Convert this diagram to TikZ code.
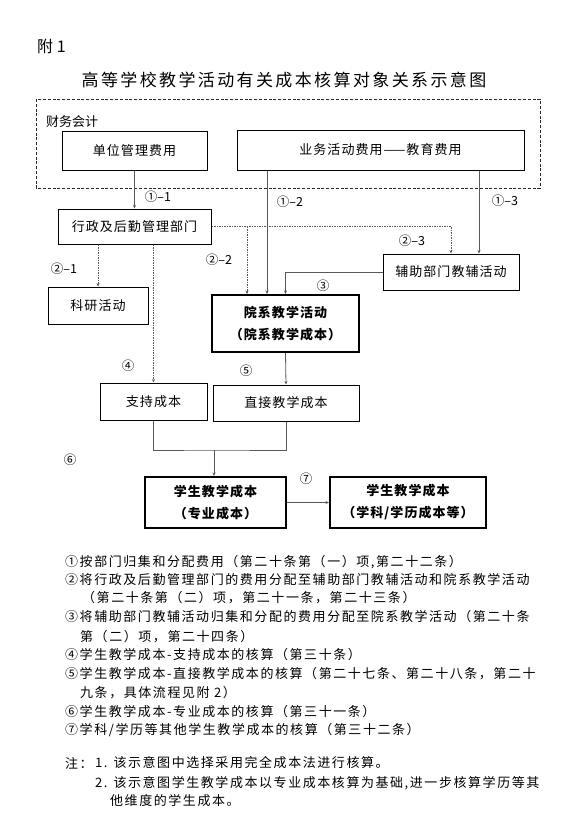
\documentclass[tikz,border=0pt]{standalone}
\usepackage{fontspec}
\setmainfont{Noto Sans CJK SC}
\newfontfamily\cjk{Noto Sans CJK SC}
\usetikzlibrary{arrows.meta}
\begin{document}
\begin{tikzpicture}[x=1pt,y=-1pt,
  box/.style={draw=black,line width=1pt,inner sep=0pt,align=center,font=\fontsize{13}{15}\selectfont\addfontfeature{LetterSpace=8}},
  thickbox/.style={box,line width=2pt,font=\fontsize{13}{22}\selectfont\bfseries\addfontfeature{LetterSpace=8}},
  lbl/.style={inner sep=0pt,font=\fontsize{12.5}{14}\selectfont},
  note/.style={inner sep=0pt,anchor=west,font=\fontsize{13}{15}\selectfont\addfontfeature{LetterSpace=12}},
  conn/.style={draw=black!65,line width=0.8pt},
  arr/.style={conn,-{Stealth[length=3.5pt,width=3pt]}},
  darr/.style={arr,dash pattern=on 1.5pt off 1pt}]
\useasboundingbox (0,0) rectangle (576,831);
\fill[white] (0,0) rectangle (576,831);

\node[inner sep=0pt,anchor=west,font=\fontsize{16}{18}\selectfont] (fu) at (37,46) {附 1};
\node[inner sep=0pt,font=\fontsize{17}{20}\selectfont\addfontfeature{LetterSpace=14}] (title) at (284,80) {高等学校教学活动有关成本核算对象关系示意图};

\draw[line width=0.9pt,draw=black!85,dash pattern=on 3pt off 1.8pt] (36,99) rectangle (540,188);
\node[inner sep=0pt,anchor=west,font=\fontsize{13}{15}\selectfont] (cw) at (46,122) {财务会计};

\node[box,minimum width=145pt,minimum height=39pt] (danwei) at (134.5,150.5) {单位管理费用};
\node[box,minimum width=287pt,minimum height=40pt] (yewu) at (380.5,150) {业务活动费用——教育费用};
\node[box,minimum width=153pt,minimum height=35pt] (xz) at (134.5,226.5) {行政及后勤管理部门};
\node[box,minimum width=100pt,minimum height=37pt] (keyan) at (98,305.5) {科研活动};
\node[box,minimum width=136pt,minimum height=36pt] (fuzhu) at (451,272) {辅助部门教辅活动};
\node[thickbox,minimum width=147pt,minimum height=57pt] (yuanxi) at (285.5,323.5) {院系教学活动\\（院系教学成本）};
\node[box,minimum width=107pt,minimum height=37pt] (zhichi) at (153.5,401.5) {支持成本};
\node[box,minimum width=146pt,minimum height=36pt] (zhijie) at (286,403) {直接教学成本};
\node[thickbox,minimum width=141pt,minimum height=51pt] (xs) at (215.5,502.5) {学生教学成本\\（专业成本）};
\node[thickbox,minimum width=156pt,minimum height=51pt] (xs2) at (408,502.5) {学生教学成本\\（学科/学历成本等）};

\coordinate (xa) at (267,0);
\coordinate (xb) at (479,0);
\coordinate (b22) at (247,0);

\draw[arr] (danwei.south) -- (xz.north);
\draw[darr] (xz.south -| keyan.north) -- (keyan.north);
\draw[darr] (xz.south -| zhichi.north) -- (zhichi.north);
\draw[darr] (xz.east) -| (fuzhu.north);
\draw[darr] (b22 |- xz.east) -- (b22 |- yuanxi.north);
\draw[arr] (xa |- yewu.south) -- (xa |- yuanxi.north);
\draw[arr] (xb |- yewu.south) -- (xb |- fuzhu.north);
\draw[arr] (fuzhu.west) -| (yuanxi.north);
\draw[arr] (yuanxi.south) -- (zhijie.north);
\coordinate (j) at (214,450);
\draw[conn] (zhichi.south) |- (j) -| (zhijie.south);
\draw[arr] (j) -- (j |- xs.north);
\draw[arr] (xs.east) -- (xs2.west);

\node[lbl] (l11) at (158,197) {①–1};
\node[lbl] (l12) at (290,202) {①–2};
\node[lbl] (l13) at (505,201) {①–3};
\node[lbl] (l21) at (64,269) {②–1};
\node[lbl] (l22) at (219,260) {②–2};
\node[lbl] (l23) at (412,241) {②–3};
\node[lbl] (l3) at (323,286) {③};
\node[lbl] (l4) at (128,366) {④};
\node[lbl] (l5) at (246,371) {⑤};
\node[lbl] (l6) at (70,460) {⑥};
\node[lbl] (l7) at (306,479) {⑦};

\node[note] (n1) at (65,562) {①按部门归集和分配费用（第二十条第（一）项,第二十二条）};
\node[note] (n2) at (65,580) {②将行政及后勤管理部门的费用分配至辅助部门教辅活动和院系教学活动};
\node[note] (n3) at (82,598) {（第二十条第（二）项，第二十一条，第二十三条）};
\node[note] (n4) at (65,617) {③将辅助部门教辅活动归集和分配的费用分配至院系教学活动（第二十条};
\node[note] (n5) at (80,637) {第（二）项，第二十四条）};
\node[note] (n6) at (65,655) {④学生教学成本-支持成本的核算（第三十条）};
\node[note] (n7) at (65,674) {⑤学生教学成本-直接教学成本的核算（第二十七条、第二十八条，第二十};
\node[note] (n8) at (80,693) {九条，具体流程见附 2）};
\node[note] (n9) at (65,712) {⑥学生教学成本-专业成本的核算（第三十一条）};
\node[note] (n10) at (65,730) {⑦学科/学历等其他学生教学成本的核算（第三十二条）};

\node[note] (z0) at (65,763) {注：};
\node[note] (z1) at (95,763) {1. 该示意图中选择采用完全成本法进行核算。};
\node[note] (z2) at (95,783) {2. 该示意图学生教学成本以专业成本核算为基础,进一步核算学历等其};
\node[note] (z3) at (110,801) {他维度的学生成本。};
\end{tikzpicture}
\end{document}
